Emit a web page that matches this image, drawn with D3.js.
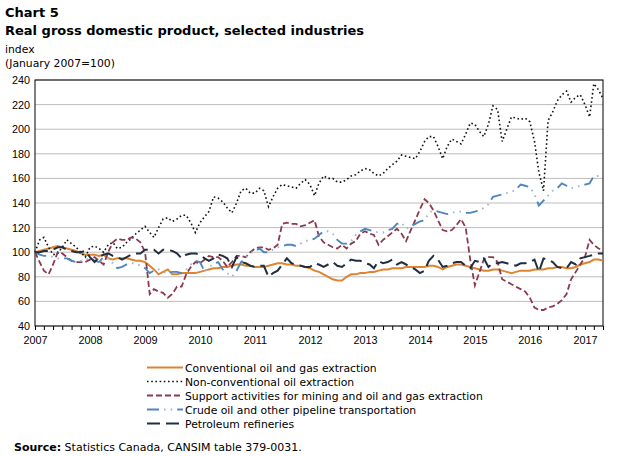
<!DOCTYPE html>
<html lang="en">
<head>
<meta charset="UTF-8">
<title>Chart 5</title>
<style>
  body { margin: 0; background: #fff; }
  svg { font-family: "DejaVu Sans", Verdana, sans-serif; }
  .ticks text { font-size: 10.8px; fill: #000; }
  .legend text { font-size: 10.8px; fill: #000; }
</style>
</head>
<body>
<div id="chart"></div>
<script src="https://cdn.jsdelivr.net/npm/d3@7"></script>
<script>
// monthly index values, January 2007 = 100 (Jan 2007 .. May 2017)
let conventional = [
  100,101,102,103,104,105,104,103,102,101,99,98,
  98,98,97,98,95,94,95,95,95,94,93,93,
  92,89,86,82,84,86,82,82,83,83,83,83,
  84,85,86,87,87,88,88,89,90,90,89,89,
  88,88,88,89,90,91,91,90,90,89,89,88,
  87,85,84,82,80,78,77,77,80,82,82,83,
  83,84,84,85,86,86,87,87,87,88,88,88,
  88,88,89,89,88,86,88,89,90,90,89,88,
  87,86,85,85,86,86,85,84,83,84,85,85,
  85,86,86,86,87,87,88,88,87,87,88,90,
  91,92,94,94,93
]
let nonConventional = [
  100,110,112,104,98,99,104,110,107,104,100,96,
  104,105,103,100,106,108,103,104,108,111,115,118,
  121,116,112,120,127,128,125,127,130,130,124,116,
  124,129,133,145,144,141,136,132,140,150,152,148,
  148,152,150,137,145,152,155,154,153,152,156,159,
  155,146,156,162,160,160,157,157,159,162,163,166,
  168,167,164,162,164,168,171,174,179,178,177,176,
  182,190,194,194,186,176,186,192,190,188,196,205,
  204,198,194,204,219,216,190,200,210,209,208,209,
  206,190,165,150,207,214,223,228,231,222,226,228,
  220,210,237,232,225
]
let support = [
  100,92,85,82,90,100,99,96,93,92,92,92,
  94,96,93,90,100,108,111,110,110,112,111,108,
  100,66,70,68,67,63,66,72,72,82,88,92,
  91,94,97,96,96,93,88,92,97,97,96,100,
  103,104,104,102,103,106,123,124,123,123,121,122,
  124,126,113,108,106,104,103,106,103,107,109,115,
  117,115,114,106,110,113,116,119,115,109,118,126,
  135,143,140,134,126,118,117,118,122,127,120,94,
  73,84,94,96,96,92,78,76,74,72,70,68,
  63,55,53,53,55,56,58,61,66,78,84,90,
  96,110,106,103,102
]
let pipeline = [
  100,98,97,97,96,95,95,95,93,92,93,94,
  95,93,92,96,95,91,87,88,90,91,91,89,
  87,83,85,86,84,83,84,84,83,86,90,93,
  92,84,88,90,92,86,83,80,85,92,96,99,
  101,103,100,100,102,104,105,106,106,105,107,109,
  110,111,114,117,117,115,110,107,107,109,114,117,
  119,118,117,116,116,118,119,123,124,119,121,123,
  125,126,132,134,133,132,131,132,133,133,132,132,
  133,134,136,139,145,146,147,148,149,151,155,154,
  153,147,138,142,146,150,152,156,154,152,153,154,
  155,156,162,162,161
]
let refineries = [
  100,100,101,101,102,104,104,102,101,100,100,101,
  96,92,96,98,99,97,96,94,96,98,99,99,
  102,102,102,99,102,102,101,99,95,98,99,99,
  98,95,93,95,98,97,95,88,96,92,91,89,
  88,89,89,80,83,85,90,95,91,90,89,88,
  88,91,90,88,90,92,89,88,91,94,93,93,
  91,90,87,93,91,92,94,90,92,90,88,86,
  83,85,93,97,94,88,89,91,92,92,89,87,
  93,92,95,88,91,91,92,91,90,89,91,91,
  92,94,84,95,94,92,88,87,87,92,90,95,
  96,97,98,99,99
]
let seriesNames = [
  'Conventional oil and gas extraction',
  'Non-conventional oil extraction',
  'Support activities for mining and oil and gas extraction',
  'Crude oil and other pipeline transportation',
  'Petroleum refineries'
]
let yTicks = [40, 60, 80, 100, 120, 140, 160, 180, 200, 220, 240]
let yearTicks = [2007, 2008, 2009, 2010, 2011, 2012, 2013, 2014, 2015, 2016, 2017]

let months = d3.timeMonth.range(new Date(2007, 0, 1), new Date(2017, 5, 1))

let width = 625
let height = 456
let plotLeft = 35, plotRight = 603, plotTop = 80, plotBottom = 326

let svg = d3.select('#chart').append('svg').attr('width', width).attr('height', height)

// titles
svg.append('text').text('Chart 5').attr('x', 5).attr('y', 17)
  .style('font-weight', 'bold').style('font-size', '13px')
svg.append('text').text('Real gross domestic product, selected industries').attr('x', 5).attr('y', 35)
  .style('font-weight', 'bold').style('font-size', '13px')
svg.append('text').text('index').attr('x', 5).attr('y', 53).style('font-size', '10.8px')
svg.append('text').text('(January 2007=100)').attr('x', 5).attr('y', 67).style('font-size', '10.8px')

// scales
let x = d3.scaleTime().domain([months[0], months[months.length - 1]]).range([plotLeft, plotRight])
let y = d3.scaleLinear().domain([40, 240]).range([plotBottom, plotTop])

// grid lines
svg.append('g').selectAll('line').data(yTicks).enter().append('line')
  .attr('x1', plotLeft).attr('x2', plotRight)
  .attr('y1', d => y(d)).attr('y2', d => y(d))
  .attr('stroke', '#bdbdbd').attr('stroke-width', 1)

// y axis labels
let yAxis = d3.axisLeft(y).tickValues(yTicks).tickSize(0).tickPadding(5)
svg.append('g').attr('class', 'ticks').attr('transform', 'translate(' + plotLeft + ',0)').call(yAxis)
  .call(g => g.select('.domain').remove())

// x axis: small ticks every two months, labels on years
let xAxis = d3.axisBottom(x).tickValues(d3.timeMonth.range(months[0], new Date(2017, 5, 1), 2))
  .tickSize(4).tickFormat('')
svg.append('g').attr('transform', 'translate(0,' + plotBottom + ')').call(xAxis)
  .call(g => g.select('.domain').remove())
  .selectAll('line').attr('stroke', '#000')

let xLabels = d3.axisBottom(x).tickValues(yearTicks.map(d => new Date(d, 0, 1)))
  .tickSize(0).tickPadding(10).tickFormat(d3.timeFormat('%Y'))
svg.append('g').attr('class', 'ticks').attr('transform', 'translate(0,' + plotBottom + ')').call(xLabels)
  .call(g => g.select('.domain').remove())

// plot frame
svg.append('rect').attr('x', plotLeft).attr('y', plotTop)
  .attr('width', plotRight - plotLeft).attr('height', plotBottom - plotTop)
  .attr('fill', 'none').attr('stroke', '#000').attr('stroke-width', 1)

// series; the pipeline line is a blue dash followed by two paler dots, drawn as two layers
let styles = [
  { data: conventional, layers: [{ color: '#e0832f', width: 2, dash: null }] },
  { data: nonConventional, layers: [{ color: '#111', width: 1.6, dash: '1.6,2.6' }] },
  { data: support, layers: [{ color: '#8b3a4e', width: 1.8, dash: '6,3' }] },
  { data: pipeline, layers: [
    { color: '#4f86bf', width: 1.9, dash: '12,18.2' },
    { color: '#9cb8d6', width: 1.9, dash: '0,17,1.6,5,1.6,5' }
  ] },
  { data: refineries, layers: [{ color: '#1f2f40', width: 2, dash: '13,6' }] }
]

let line = d3.line().x((d, i) => x(months[i])).y(d => y(d))

let lines = svg.append('g')
styles.forEach(s => {
  s.layers.forEach(l => {
    lines.append('path').datum(s.data)
      .attr('d', line)
      .attr('fill', 'none')
      .attr('stroke', l.color)
      .attr('stroke-width', l.width)
      .attr('stroke-dasharray', l.dash)
  })
})

// legend
let legend = svg.append('g').attr('class', 'legend')
styles.forEach((s, i) => {
  let ly = 367.5 + i * 14
  s.layers.forEach(l => {
    legend.append('line')
      .attr('x1', 147).attr('x2', 183).attr('y1', ly).attr('y2', ly)
      .attr('stroke', l.color).attr('stroke-width', l.width)
      .attr('stroke-dasharray', l.dash)
  })
  legend.append('text').text(seriesNames[i]).attr('x', 185).attr('y', ly + 4)
})

// source
let src = svg.append('text').attr('x', 14).attr('y', 451).style('font-size', '11px')
src.append('tspan').text('Source:').style('font-weight', 'bold')
src.append('tspan').text(' Statistics Canada, CANSIM table 379-0031.')
</script>
</body>
</html>
